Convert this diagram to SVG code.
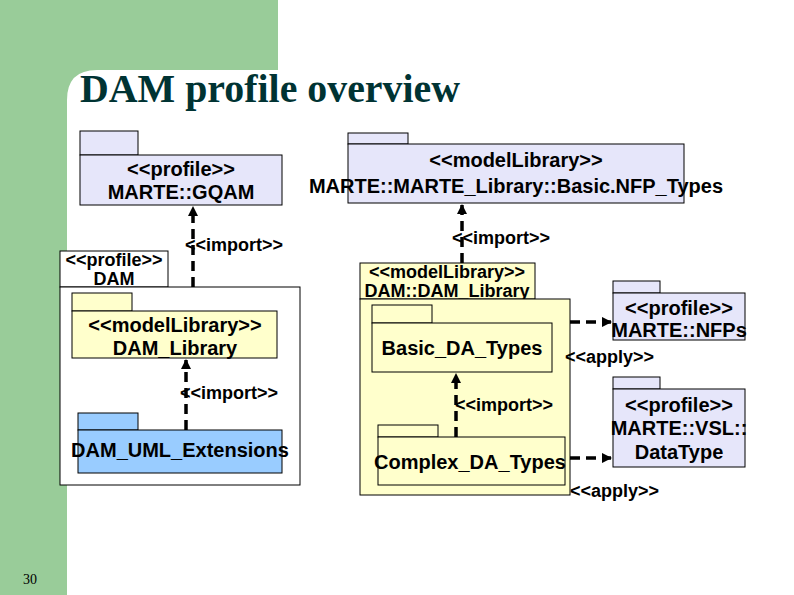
<svg xmlns="http://www.w3.org/2000/svg" width="794" height="595" viewBox="0 0 794 595">
<defs>
<style>
.t{font-family:"Liberation Sans",Arial,sans-serif;font-size:20px;font-weight:bold;fill:#000;text-anchor:middle}
.s{font-size:18px}
.l{font-family:"Liberation Sans",Arial,sans-serif;font-size:18px;font-weight:bold;fill:#000}
.p{stroke:#000;stroke-width:1}
.lav{fill:#e6e6fa}.yel{fill:#ffffcc}.blu{fill:#99ccff}.wh{fill:#fff}
.c{stroke:#000;stroke-width:3.5;stroke-dasharray:10,6;fill:none}
</style>
<marker id="a" viewBox="0 0 10 10" refX="9" refY="5" markerWidth="3" markerHeight="3" orient="auto"><path d="M0,0L10,5L0,10z" fill="#000"/></marker>
</defs>
<rect width="794" height="595" fill="#fff"/>
<rect x="0" y="0" width="67" height="595" fill="#99cc99"/>
<rect x="0" y="0" width="278" height="70" fill="#99cc99"/>
<path d="M67,100 Q67,70 97,70 L67,70z" fill="#99cc99"/>
<text x="80" y="102" font-family="Liberation Serif,serif" font-size="40" font-weight="bold" fill="#003333" textLength="380" lengthAdjust="spacingAndGlyphs">DAM profile overview</text>
<text x="30" y="584" font-family="Liberation Serif,serif" font-size="14" text-anchor="middle">30</text>

<g id="gqam"><rect class="p lav" x="80" y="131" width="58" height="24"/><rect class="p lav" x="80" y="155" width="202" height="50"/><text class="t" x="181" y="176">&lt;&lt;profile&gt;&gt;</text><text class="t" x="181" y="199">MARTE::GQAM</text></g>
<g id="dam"><rect class="p wh" x="60" y="251" width="108" height="36"/><text class="t s" x="114" y="266">&lt;&lt;profile&gt;&gt;</text><text class="t s" x="114" y="285">DAM</text><rect class="p wh" x="60" y="287" width="240" height="198"/></g>
<g id="damlib"><rect class="p yel" x="72" y="293" width="60" height="18"/><rect class="p yel" x="72" y="311" width="205" height="47"/><text class="t" x="175" y="332">&lt;&lt;modelLibrary&gt;&gt;</text><text class="t" x="175" y="355">DAM_Library</text></g>
<g id="umlext"><rect class="p blu" x="78" y="413" width="60" height="17"/><rect class="p blu" x="78" y="430" width="204" height="43"/><text class="t" x="180" y="457">DAM_UML_Extensions</text></g>
<g id="nfptypes"><rect class="p lav" x="348" y="133" width="60" height="11"/><rect class="p lav" x="348" y="144" width="336" height="59"/><text class="t" x="516" y="167">&lt;&lt;modelLibrary&gt;&gt;</text><text class="t" x="516" y="193">MARTE::MARTE_Library::Basic.NFP_Types</text></g>
<g id="damdamlib"><rect class="p yel" x="360" y="263" width="175" height="36"/><text class="t s" x="447" y="278">&lt;&lt;modelLibrary&gt;&gt;</text><text class="t s" x="447" y="297">DAM::DAM_Library</text><rect class="p yel" x="360" y="299" width="210" height="196"/></g>
<g id="basic"><rect class="p yel" x="372" y="305" width="60" height="18"/><rect class="p yel" x="372" y="323" width="180" height="49"/><text class="t" x="462" y="355">Basic_DA_Types</text></g>
<g id="complex"><rect class="p yel" x="378" y="425" width="60" height="12"/><rect class="p yel" x="378" y="437" width="187" height="48"/><text class="t" x="470" y="469">Complex_DA_Types</text></g>
<g id="nfps"><rect class="p lav" x="613" y="281" width="47" height="12"/><rect class="p lav" x="613" y="293" width="132" height="47"/><text class="t" x="679" y="315">&lt;&lt;profile&gt;&gt;</text><text class="t" x="679" y="337">MARTE::NFPs</text></g>
<g id="vsl"><rect class="p lav" x="613" y="377" width="47" height="12"/><rect class="p lav" x="613" y="389" width="132" height="78"/><text class="t" x="679" y="412">&lt;&lt;profile&gt;&gt;</text><text class="t" x="679" y="435">MARTE::VSL::</text><text class="t" x="679" y="459">DataType</text></g>

<g id="connectors">
<path class="c" d="M193,287V207" marker-end="url(#a)"/>
<path class="c" d="M186,430V360" marker-end="url(#a)"/>
<path class="c" d="M462,263V205" marker-end="url(#a)"/>
<path class="c" d="M456,437V374" marker-end="url(#a)"/>
<path class="c" d="M570,322H611" marker-end="url(#a)"/>
<path class="c" d="M570,458H611" marker-end="url(#a)"/>
<text class="l" x="185" y="251">&lt;&lt;import&gt;&gt;</text>
<text class="l" x="180" y="399">&lt;&lt;import&gt;&gt;</text>
<text class="l" x="452" y="244">&lt;&lt;import&gt;&gt;</text>
<text class="l" x="455" y="411">&lt;&lt;import&gt;&gt;</text>
<text class="l" x="565" y="363">&lt;&lt;apply&gt;&gt;</text>
<text class="l" x="570" y="497">&lt;&lt;apply&gt;&gt;</text>
</g>
</svg>
